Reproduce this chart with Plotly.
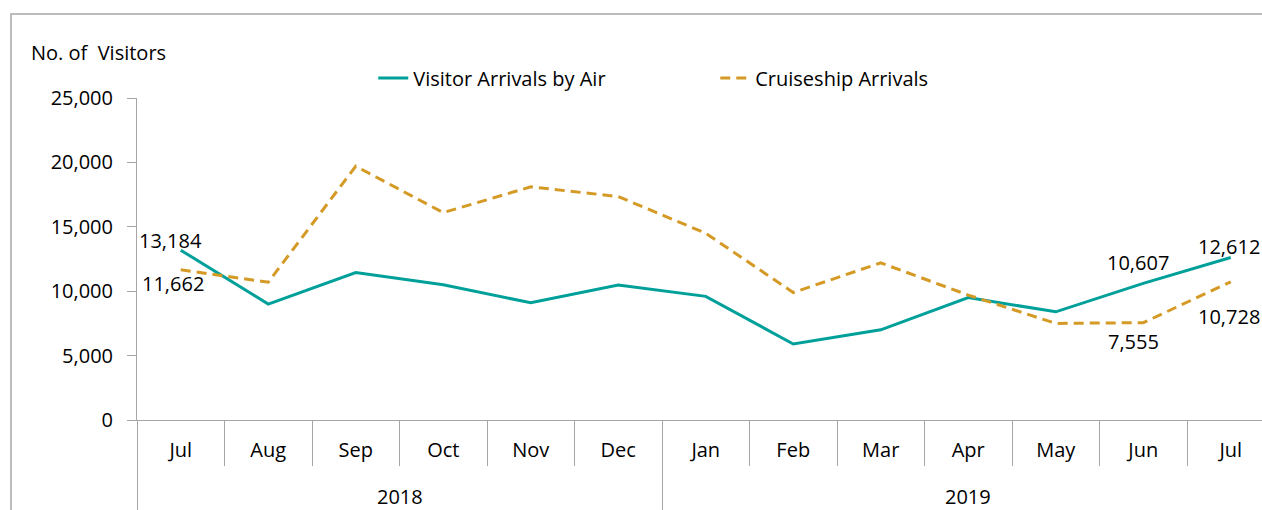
import plotly.graph_objects as go

months = ["Jul", "Aug", "Sep", "Oct", "Nov", "Dec", "Jan", "Feb", "Mar", "Apr", "May", "Jun", "Jul"]
years = ["2018"] * 6 + ["2019"] * 7
air = [13184, 9000, 11450, 10500, 9100, 10480, 9600, 5900, 7000, 9500, 8400, 10607, 12612]
cruise = [11662, 10700, 19700, 16100, 18100, 17350, 14500, 9900, 12200, 9700, 7500, 7555, 10728]
y_ticks = [0, 5000, 10000, 15000, 20000, 25000]

idx = list(range(len(months)))
TEAL = "#00A09A"
GOLD = "#D49A25"
GRAY = "#A6A6A6"
FONT = "Open Sans"
FS = 20

fig = go.Figure()
fig.add_trace(go.Scatter(x=idx, y=air, mode="lines", name="Visitor Arrivals by Air",
                         line=dict(color=TEAL, width=3), cliponaxis=False))
fig.add_trace(go.Scatter(x=idx, y=cruise, mode="lines", name="Cruiseship Arrivals",
                         line=dict(color=GOLD, width=3, dash="10px,6px"), cliponaxis=False))
# helper traces so the overlay axes render
fig.add_trace(go.Scatter(x=[None], y=[None], xaxis="x2", showlegend=False, hoverinfo="skip"))
fig.add_trace(go.Scatter(x=[None], y=[None], xaxis="x3", showlegend=False, hoverinfo="skip"))

xr = [-0.5, -0.5 + 1125 / 87.5]
fig.update_layout(
    width=1262, height=510,
    margin=dict(l=137, r=0, t=98, b=90, autoexpand=False),
    paper_bgcolor="white", plot_bgcolor="white",
    font=dict(family=FONT, size=FS, color="black"),
    showlegend=True,
    legend=dict(orientation="h", x=0.21, xanchor="left", y=1.062, yanchor="middle",
                entrywidth=297, entrywidthmode="pixels", bgcolor="rgba(0,0,0,0)",
                font=dict(family=FONT, size=FS)),
    xaxis=dict(range=xr, tickmode="array", tickvals=idx, ticktext=months, ticks="",
               showline=True, linecolor=GRAY, linewidth=1, showgrid=False, zeroline=False,
               ticklabelstandoff=12, automargin=False),
    xaxis2=dict(range=xr, overlaying="x", anchor="y", side="bottom", tickmode="array",
                tickvals=[i - 0.5 for i in range(len(months) + 1)], ticks="outside", ticklen=45,
                tickcolor=GRAY, tickwidth=1, showticklabels=False, showline=False,
                showgrid=False, zeroline=False, automargin=False),
    xaxis3=dict(range=xr, overlaying="x", anchor="y", side="bottom", tickmode="array",
                tickvals=[-0.5, years.index("2019") - 0.5, len(months) - 0.5], ticks="outside",
                ticklen=90, tickcolor=GRAY, tickwidth=1, showticklabels=False, showline=False,
                showgrid=False, zeroline=False, automargin=False),
    yaxis=dict(range=[0, 25000], tickmode="array", tickvals=y_ticks, tickformat=",",
               ticks="outside", ticklen=9, tickcolor=GRAY, showline=True, linecolor=GRAY,
               linewidth=1, showgrid=False, zeroline=False, ticklabelstandoff=10,
               automargin=False),
)

# year labels centred under their months
for yr in ["2018", "2019"]:
    pos = [i for i, y in enumerate(years) if y == yr]
    fig.add_annotation(x=(pos[0] + pos[-1]) / 2, y=-0.237, xref="x", yref="paper",
                       text=yr, showarrow=False, yanchor="middle",
                       font=dict(family=FONT, size=FS))

# data labels
def lab(series, i, dx, dy):
    fig.add_annotation(x=i, y=series[i], xref="x", yref="y", text=f"{series[i]:,}",
                       showarrow=False, xshift=dx, yshift=dy,
                       font=dict(family=FONT, size=FS, color="black"))

lab(air, 0, -10, 10)
lab(cruise, 0, -8, -14)
lab(air, 11, -5, 21)
lab(cruise, 11, -10, -19)
lab(air, 12, -2, 11)
lab(cruise, 12, -2, -35)

# axis title
fig.add_annotation(x=(29 - 137) / 1125, y=(420 - 52) / 322, xref="paper", yref="paper",
                   text="No. of  Visitors", showarrow=False, xanchor="left", yanchor="middle",
                   font=dict(family=FONT, size=FS))

# chart frame
fig.add_shape(type="rect", xref="paper", yref="paper", x0=(11 - 137) / 1125, x1=1.2,
              y0=-0.5, y1=(420 - 14) / 322, line=dict(color=GRAY, width=1.5), layer="below")

fig.write_html("out.html", config={"displayModeBar": False},
               post_script="document.body.style.margin='0';")
